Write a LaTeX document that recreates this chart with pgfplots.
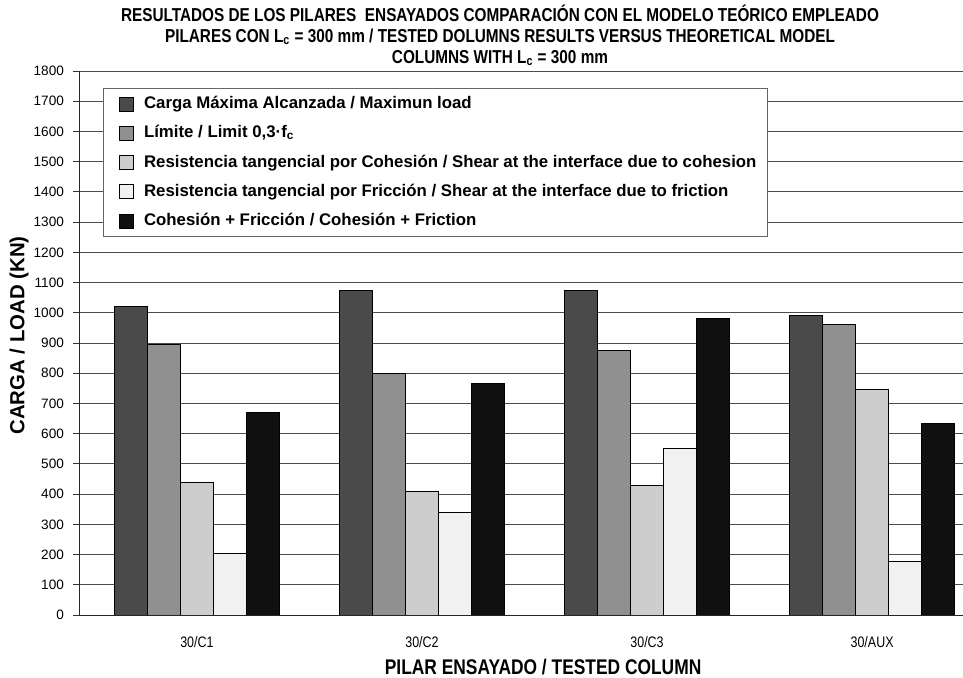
\documentclass[border=0pt]{standalone}
\usepackage{pgfplots}
\pgfplotsset{compat=1.18}
\usepackage{fontspec}
\setmainfont{Liberation Sans}
\newfontfamily\condfont[FakeStretch=0.82]{Liberation Sans}
\definecolor{cA}{HTML}{4A4A4A}
\definecolor{cB}{HTML}{909090}
\definecolor{cC}{HTML}{CDCDCD}
\definecolor{cD}{HTML}{F1F1F1}
\definecolor{cE}{HTML}{101010}
\pgfplotsset{legsq/.style={legend image code/.code={\path (0pt,0pt); \draw[fill=#1,draw=black] (4.5pt,-3.5pt) rectangle (11.5pt,3.5pt);}}}
\begin{document}
\begin{tikzpicture}
\begin{axis}[
  at={(0,0)}, anchor=south west,
  scale only axis, width=442pt, height=272pt,
  ybar=0pt, bar width=16.5pt,
  xmin=-0.524, xmax=3.404,
  ymin=0, ymax=1800,
  ytick distance=100,
  xtick=data,
  xticklabels={30/C1,30/C2,30/C3,30/AUX},
  x tick style={draw=none},
  y tick style={black!80, thin},
  tick align=outside, major tick length=3pt,
  axis lines*=left,
  axis line style={black!85, thin},
  ymajorgrids,
  grid style={black!70, thin},
  /pgf/number format/assume math mode=true,
  /pgf/number format/1000 sep={},
  yticklabel style={font=\fontsize{6.8}{8}\selectfont, xshift=-1pt},
  xticklabel style={font=\condfont\fontsize{7.6}{9}\selectfont, yshift=-4pt},
  xlabel={PILAR ENSAYADO / TESTED COLUMN},
  xlabel style={at={(axis description cs:0.525,0)}, anchor=center, yshift=-26pt, font=\condfont\bfseries\fontsize{10.6}{12}\selectfont},
  ylabel={CARGA / LOAD (KN)},
  every axis y label/.style={at={(axis description cs:0,0.514)}, xshift=-30pt, rotate=90, anchor=center, font=\bfseries\fontsize{10.2}{12}\selectfont},
  legend style={at={(axis description cs:0.027,0.969)}, anchor=north west,
    draw=black!60, thin, fill=white, font=\bfseries\fontsize{8.4}{10}\selectfont,
    row sep=3pt, inner xsep=3.5pt, inner ysep=2pt, cells={anchor=west},
    /tikz/every odd column/.append style={column sep=3pt}},
  legend cell align=left,
]
\addplot[fill=cA, draw=black, thin, legsq=cA] coordinates {(0,1020) (1,1075) (2,1075) (3,990)};
\addplot[fill=cB, draw=black, thin, legsq=cB] coordinates {(0,895) (1,800) (2,875) (3,962)};
\addplot[fill=cC, draw=black, thin, legsq=cC] coordinates {(0,440) (1,410) (2,428) (3,745)};
\addplot[fill=cD, draw=black, thin, legsq=cD] coordinates {(0,205) (1,340) (2,550) (3,178)};
\addplot[fill=cE, draw=black, thin, legsq=cE] coordinates {(0,670) (1,767) (2,982) (3,635)};
\legend{Carga Máxima Alcanzada / Maximun load,
  Límite / Limit 0{,}3·f\textsubscript{c},
  Resistencia tangencial por Cohesión / Shear at the interface due to cohesion,
  Resistencia tangencial por Fricción / Shear at the interface due to friction,
  Cohesión + Fricción / Cohesión + Friction}
\end{axis}
\node[align=center, font=\condfont\bfseries\fontsize{9.35}{10.5}\selectfont] at (210.5pt,290pt)
  {RESULTADOS DE LOS PILARES\ \ ENSAYADOS COMPARACIÓN CON EL MODELO TEÓRICO EMPLEADO\\
   PILARES CON L\textsubscript{c} = 300 mm / TESTED DOLUMNS RESULTS VERSUS THEORETICAL MODEL\\
   COLUMNS WITH L\textsubscript{c} = 300 mm};
\pgfresetboundingbox
\path[use as bounding box] (-39.5pt,-31.5pt) rectangle (442pt,307.5pt);
\end{tikzpicture}
\end{document}
